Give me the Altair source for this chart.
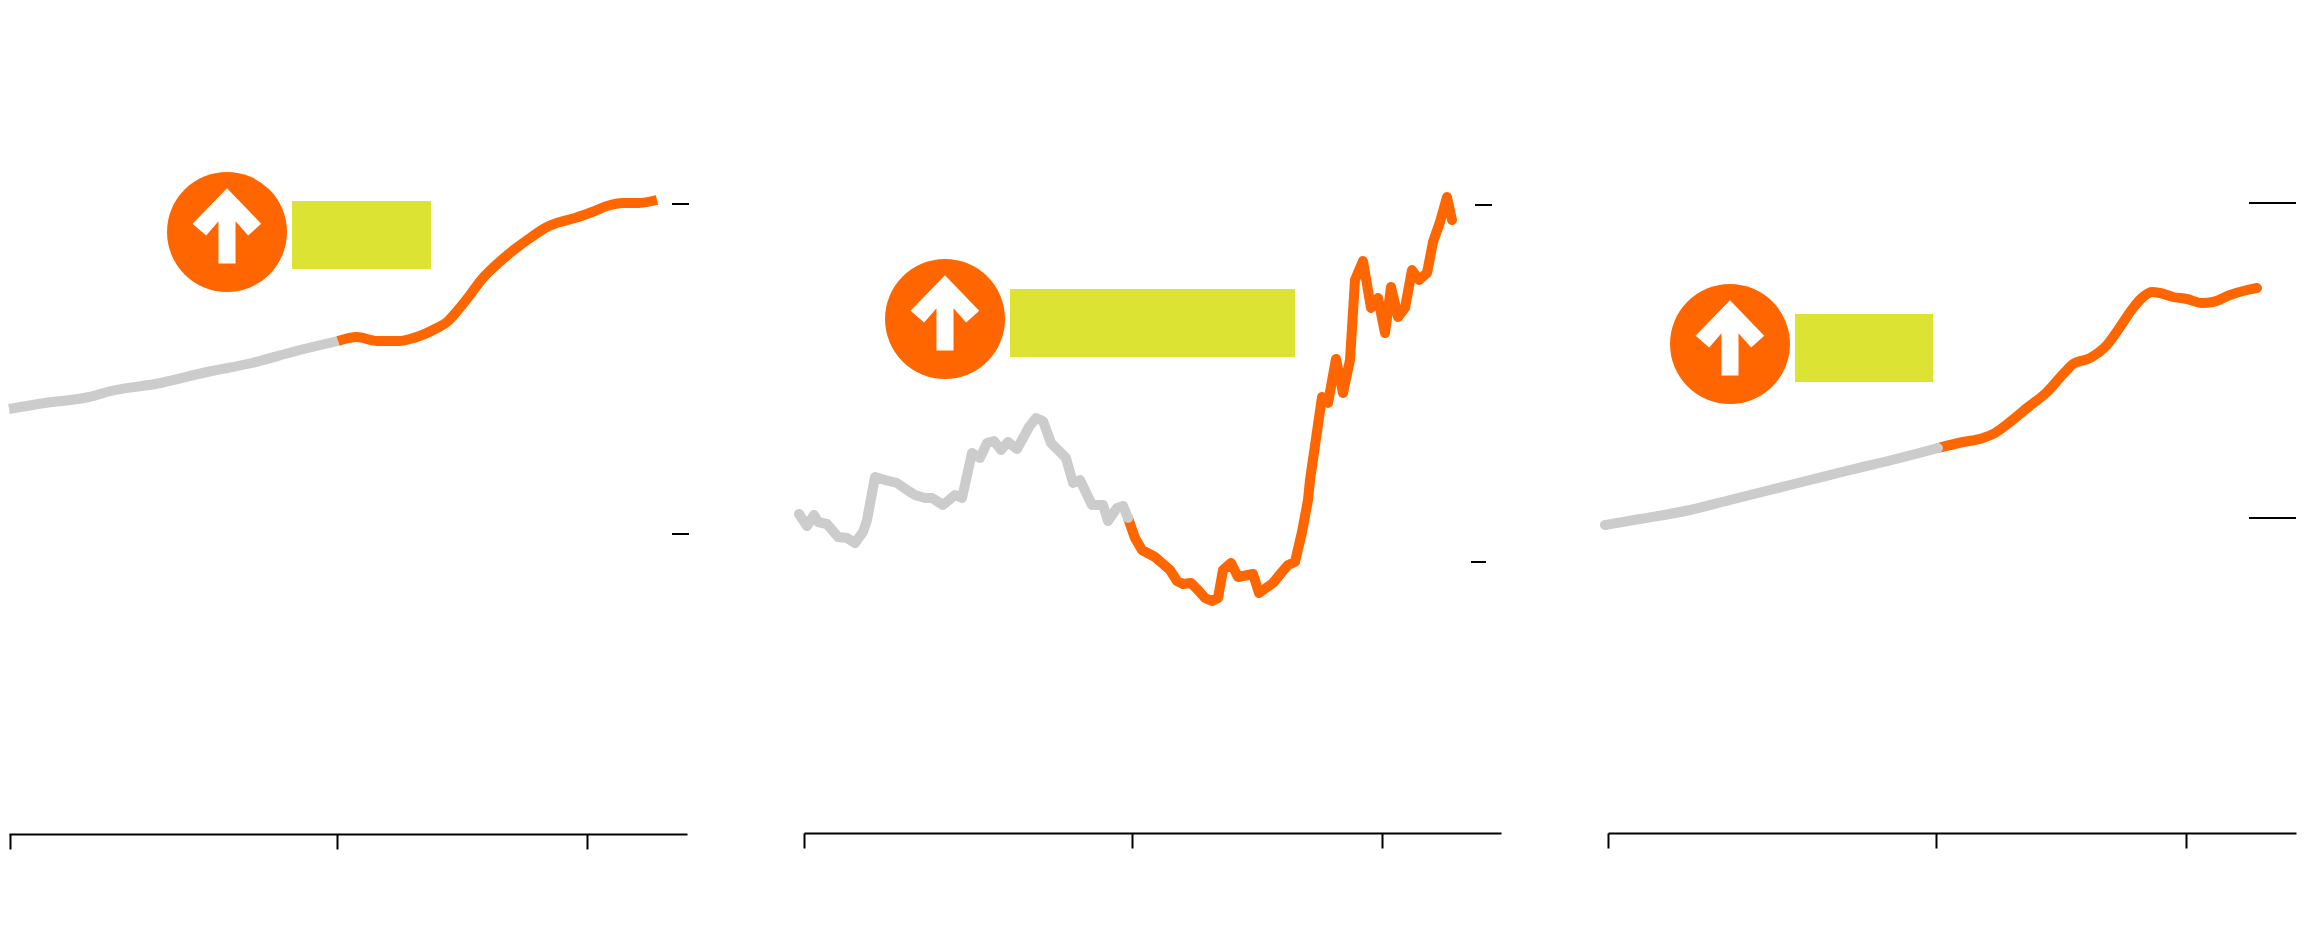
import altair as alt
import pandas as pd

ORANGE = "#FF6600"
GRAY = "#CCCCCC"
YELLOW = "#DDE333"
ARROW = ("M0,-0.73 L0.57,-0.137 L0.353,0.058 L0.142,-0.18 L0.142,0.525 "
         "L-0.142,0.525 L-0.142,-0.18 L-0.347,0.058 L-0.575,-0.137 Z")

# Panel 1: time index / value above baseline
p1_gray_t = [0, 36, 80, 102, 146, 198, 243, 287, 329]
p1_gray_v = [425, 431, 437, 443, 450, 462, 471, 483, 493]
p1_orange_t = [329, 348, 368, 391, 401, 428, 438, 449, 461, 473, 486, 506, 521, 538, 551, 566, 583, 598, 614, 629, 648]
p1_orange_v = [493, 497, 493, 493, 495, 506, 512, 524, 539, 555, 568, 585, 596, 607, 612, 616, 622, 628, 631, 631, 634]

# Panel 2
p2_gray_t = [0, 8, 15, 19, 28, 39, 48, 56, 64, 68, 76, 86, 98, 108, 116, 126, 133, 144, 156, 163, 173, 181, 188, 195, 202, 209, 218, 230, 237, 244, 252, 267, 274, 281, 293, 304, 309, 318, 324, 329]
p2_gray_v = [319, 307, 318, 311, 309, 296, 295, 290, 301, 313, 356, 353, 350, 343, 338, 335, 335, 328, 338, 335, 380, 375, 390, 392, 383, 391, 384, 406, 415, 412, 390, 375, 350, 353, 328, 328, 312, 325, 327, 315]
p2_orange_t = [329, 336, 343, 356, 371, 378, 384, 392, 399, 406, 413, 419, 424, 432, 439, 454, 460, 474, 483, 489, 496, 503, 509, 511, 523, 529, 537, 544, 551, 556, 564, 572, 579, 586, 592, 599, 606, 613, 620, 628, 634, 641, 648, 653]
p2_orange_v = [315, 295, 283, 276, 263, 252, 249, 250, 243, 235, 232, 235, 263, 270, 256, 259, 240, 250, 261, 268, 271, 301, 333, 353, 436, 430, 474, 440, 473, 553, 572, 525, 535, 500, 546, 516, 525, 563, 553, 560, 591, 611, 636, 613]

# Panel 3
p3_gray_t = [0, 35, 85, 125, 165, 205, 245, 295, 333]
p3_gray_v = [308, 314, 323, 333, 343, 353, 363, 375, 385]
p3_orange_t = [333, 358, 378, 390, 405, 422, 442, 460, 468, 485, 502, 515, 528, 538, 547, 555, 568, 582, 597, 608, 625, 642, 652]
p3_orange_v = [385, 391, 395, 400, 411, 425, 441, 461, 469, 475, 488, 506, 525, 536, 541, 540, 536, 534, 530, 531, 538, 543, 545]

PANELS = [
    dict(w=678, h=826, dom=(0, 678), xticks=[1, 328, 578], c=(218, 602), r=(283, 422, 565, 633),
         ticks=[(663, 680, 300), (663, 680, 630)], interp="monotone", gray_top=False,
         g=(p1_gray_t, p1_gray_v), o=(p1_orange_t, p1_orange_v), cap="butt"),
    dict(w=697, h=825, dom=(5, 702), xticks=[5, 333, 583], c=(146, 514), r=(211, 496, 476, 544),
         ticks=[(672, 687, 271), (676, 693, 628)], interp="linear", gray_top=True,
         g=(p2_gray_t, p2_gray_v), o=(p2_orange_t, p2_orange_v), cap="round"),
    dict(w=688, h=825, dom=(3, 691), xticks=[3, 331, 581], c=(125, 489), r=(190, 328, 451, 519),
         ticks=[(644, 691, 315), (644, 691, 630)], interp="monotone", gray_top=True,
         g=(p3_gray_t, p3_gray_v), o=(p3_orange_t, p3_orange_v), cap="round"),
]


def panel(p):
    x = alt.X("t:Q", scale=alt.Scale(domain=list(p["dom"]), nice=False, zero=False),
              axis=alt.Axis(values=p["xticks"], labels=False, title=None, grid=False, tickSize=15,
                            tickWidth=2, domainWidth=2, tickColor="#000", domainColor="#000"))
    y = alt.Y("v:Q", scale=alt.Scale(domain=[0, p["h"]], nice=False, zero=False), axis=None)
    style = dict(strokeWidth=10, strokeCap=p["cap"], strokeJoin="round", interpolate=p["interp"])
    gray = alt.Chart(pd.DataFrame({"t": p["g"][0], "v": p["g"][1]})).mark_line(
        color=GRAY, **style).encode(x=x, y=y, order="t:Q")
    orange = alt.Chart(pd.DataFrame({"t": p["o"][0], "v": p["o"][1]})).mark_line(
        color=ORANGE, **style).encode(x=x, y=y, order="t:Q")
    rect = alt.Chart(pd.DataFrame({"t": [p["r"][0]], "t2": [p["r"][1]], "v": [p["r"][2]], "v2": [p["r"][3]]})).mark_rect(
        color=YELLOW).encode(x=x, x2="t2:Q", y=y, y2="v2:Q")
    pt = pd.DataFrame({"t": [p["c"][0]], "v": [p["c"][1]]})
    circle = alt.Chart(pt).mark_point(filled=True, shape="circle", size=14400, color=ORANGE, opacity=1).encode(x=x, y=y)
    arrow = alt.Chart(pt).mark_point(filled=True, shape=ARROW, size=14400, color="#FFFFFF", opacity=1).encode(x=x, y=y)
    tk = pd.DataFrame({"t": [k[0] for k in p["ticks"]], "t2": [k[1] for k in p["ticks"]], "v": [k[2] for k in p["ticks"]]})
    ticks = alt.Chart(tk).mark_rule(color="#000000", strokeWidth=2).encode(x=x, x2="t2:Q", y=y)
    lines = [orange, gray] if p["gray_top"] else [gray, orange]
    return alt.layer(ticks, *lines, rect, circle, arrow).properties(width=p["w"], height=p["h"])


chart = alt.hconcat(
    alt.hconcat(panel(PANELS[0]), panel(PANELS[1]), spacing=104),
    panel(PANELS[2]), spacing=99,
).properties(
    padding={"left": -4, "top": 0, "right": 0, "bottom": 0},
    background="#FFFFFF",
).configure_view(strokeWidth=0, stroke="transparent")

chart.save("out.html", embed_options={"renderer": "svg", "actions": False})
